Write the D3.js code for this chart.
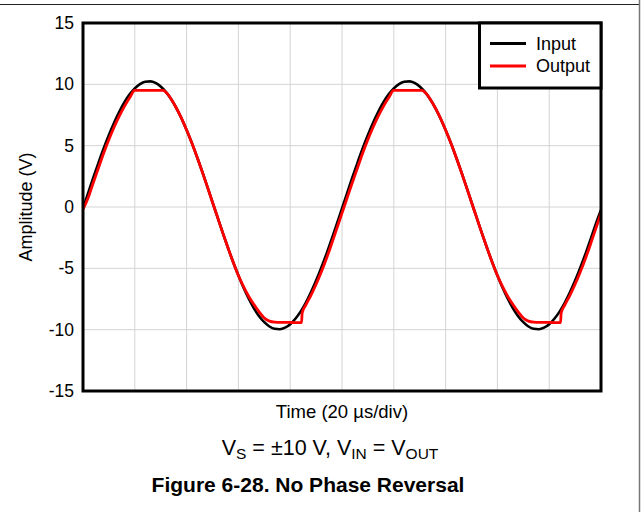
<!DOCTYPE html>
<html>
<head>
<meta charset="utf-8">
<script src="https://cdn.jsdelivr.net/npm/d3@7"></script>
<style>
  html, body { margin: 0; padding: 0; background: #fff; }
  svg { display: block; font-family: Arial, "Liberation Sans", sans-serif; }
</style>
</head>
<body>
<svg id="chart" width="644" height="512"></svg>
<script>
// ---- data (time in divisions of 20 µs, amplitude in V) ----
const timeStep = 0.1;
const inputValues = [
  -0.11, 1.15, 2.41, 3.62, 4.79, 5.87, 6.87, 7.76, 8.54, 9.18,
  9.67, 10.02, 10.21, 10.24, 10.12, 9.83, 9.39, 8.81, 8.09, 7.24,
  6.28, 5.23, 4.10, 2.90, 1.66, 0.39, -0.87, -2.13, -3.34, -4.51,
  -5.59, -6.59, -7.48, -8.26, -8.90, -9.39, -9.74, -9.93, -9.96, -9.84,
  -9.55, -9.11, -8.53, -7.81, -6.96, -6.00, -4.95, -3.82, -2.62, -1.38,
  -0.11, 1.15, 2.41, 3.62, 4.79, 5.87, 6.87, 7.76, 8.54, 9.18,
  9.67, 10.02, 10.21, 10.24, 10.12, 9.83, 9.39, 8.81, 8.09, 7.24,
  6.28, 5.23, 4.10, 2.90, 1.66, 0.39, -0.87, -2.13, -3.34, -4.51,
  -5.59, -6.59, -7.48, -8.26, -8.90, -9.39, -9.74, -9.93, -9.96, -9.84,
  -9.55, -9.11, -8.53, -7.81, -6.96, -6.00, -4.95, -3.82, -2.62, -1.38,
  -0.25
];
const outputTime = [
  0, 0.1, 0.2, 0.3, 0.4, 0.5, 0.6, 0.7, 0.8, 0.9, 1.0, 1.1, 1.2, 1.3, 1.4, 1.55,
  1.6, 1.7, 1.8, 1.9, 2.0, 2.1, 2.2, 2.3, 2.4, 2.5, 2.6, 2.7, 2.8, 2.9, 3.0,
  3.1, 3.2, 3.3, 3.4, 3.5, 3.6, 3.7, 3.8, 3.9, 4.0, 4.1, 4.22, 4.23,
  4.3, 4.4, 4.5, 4.6, 4.7, 4.8, 4.9,
  5.0, 5.1, 5.2, 5.3, 5.4, 5.5, 5.6, 5.7, 5.8, 5.9, 6.0, 6.1, 6.2, 6.3, 6.4, 6.55,
  6.6, 6.7, 6.8, 6.9, 7.0, 7.1, 7.2, 7.3, 7.4, 7.5, 7.6, 7.7, 7.8, 7.9, 8.0,
  8.1, 8.2, 8.3, 8.4, 8.5, 8.6, 8.7, 8.8, 8.9, 9.0, 9.1, 9.22, 9.23,
  9.3, 9.4, 9.5, 9.6, 9.7, 9.8, 9.9, 10.0
];
const outputValues = [
  -0.2, 0.75, 2.0, 3.2, 4.4, 5.5, 6.5, 7.4, 8.2, 8.9, 9.5, 9.5, 9.5, 9.5, 9.5, 9.5,
  9.35, 8.81, 8.09, 7.24, 6.28, 5.23, 4.10, 2.90, 1.66, 0.39, -0.87, -2.13, -3.34, -4.51, -5.59,
  -6.5, -7.3, -7.95, -8.55, -9.05, -9.3, -9.38, -9.4, -9.4, -9.41, -9.42, -9.42, -8.65,
  -8.0, -7.2, -6.3, -5.3, -4.2, -3.0, -1.75,
  -0.5, 0.75, 2.0, 3.2, 4.4, 5.5, 6.5, 7.4, 8.2, 8.9, 9.5, 9.5, 9.5, 9.5, 9.5, 9.5,
  9.35, 8.81, 8.09, 7.24, 6.28, 5.23, 4.10, 2.90, 1.66, 0.39, -0.87, -2.13, -3.34, -4.51, -5.59,
  -6.5, -7.3, -7.95, -8.55, -9.05, -9.3, -9.38, -9.4, -9.4, -9.41, -9.42, -9.42, -8.65,
  -8.0, -7.2, -6.3, -5.3, -4.2, -3.0, -1.75, -0.5
];
const yTicks = [-15, -10, -5, 0, 5, 10, 15];
const xGridDivs = [1, 2, 3, 4, 5, 6, 7, 8, 9];
const seriesNames = ["Input", "Output"];
const seriesColors = ["#000000", "#ff0000"];
const xTitle = "Time (20 µs/div)";
const yTitle = "Amplitude (V)";
const figTitle = "Figure 6-28. No Phase Reversal";

// ---- layout ----
const svg = d3.select("#chart");
const L = 83, R = 601, T = 23, B = 391;
const x = d3.scaleLinear().domain([0, 10]).range([L, R]);
const y = d3.scaleLinear().domain([-15, 15]).range([B, T]);

// outer page borders
svg.append("line").attr("x1", 0).attr("x2", 640).attr("y1", 4.5).attr("y2", 4.5)
  .attr("stroke", "#222").attr("stroke-width", 1);
svg.append("line").attr("x1", 639.5).attr("x2", 639.5).attr("y1", 0).attr("y2", 512)
  .attr("stroke", "#777").attr("stroke-width", 1.5);

// grid
const grid = svg.append("g");
grid.selectAll("line.v").data(xGridDivs).enter().append("line")
  .attr("x1", d => x(d)).attr("x2", d => x(d)).attr("y1", T).attr("y2", B)
  .attr("stroke", "#d4d4d4").attr("stroke-width", 1);
grid.selectAll("line.h").data(yTicks.filter(d => d > -15 && d < 15)).enter().append("line")
  .attr("x1", L).attr("x2", R).attr("y1", d => y(d)).attr("y2", d => y(d))
  .attr("stroke", "#d4d4d4").attr("stroke-width", 1);

// y axis labels
const yAxis = d3.axisLeft(y).tickValues(yTicks).tickSize(0).tickPadding(9)
  .tickFormat(d => String(d));
const ya = svg.append("g").attr("transform", `translate(${L},0)`).call(yAxis);
ya.select(".domain").remove();
ya.selectAll("text").attr("font-size", 17.5).attr("fill", "#000")
  .attr("font-family", "Arial, 'Liberation Sans', sans-serif");

// series
const inputData = inputValues.map((v, i) => ({ t: i * timeStep, v }));
const outputData = outputTime.map((t, i) => ({ t, v: outputValues[i] }));
const line = d3.line().x(d => x(d.t)).y(d => y(d.v)).curve(d3.curveMonotoneX);

svg.append("defs").append("clipPath").attr("id", "pc")
  .append("rect").attr("x", L).attr("y", T).attr("width", R - L).attr("height", B - T);

const plot = svg.append("g").attr("clip-path", "url(#pc)");
plot.append("path").datum(inputData).attr("d", line)
  .attr("fill", "none").attr("stroke", seriesColors[0]).attr("stroke-width", 2.6)
  .attr("stroke-linejoin", "round");
plot.append("path").datum(outputData).attr("d", line)
  .attr("fill", "none").attr("stroke", seriesColors[1]).attr("stroke-width", 2.8)
  .attr("stroke-linejoin", "round");

// plot frame
svg.append("rect").attr("x", L).attr("y", T).attr("width", R - L).attr("height", B - T)
  .attr("fill", "none").attr("stroke", "#000").attr("stroke-width", 3);

// legend
const lg = svg.append("g");
lg.append("rect").attr("x", 479.5).attr("y", T).attr("width", R - 479.5).attr("height", 65)
  .attr("fill", "#fff").attr("stroke", "#000").attr("stroke-width", 3);
seriesNames.forEach((name, i) => {
  const yy = 43.5 + i * 22.5;
  lg.append("line").attr("x1", 490).attr("x2", 526).attr("y1", yy).attr("y2", yy)
    .attr("stroke", seriesColors[i]).attr("stroke-width", 3);
  lg.append("text").attr("x", 536).attr("y", yy + 6).attr("font-size", 18)
    .attr("fill", "#000").text(name);
});

// axis titles
svg.append("text").attr("x", (L + R) / 2).attr("y", 418).attr("text-anchor", "middle")
  .attr("font-size", 18.5).attr("fill", "#000").text(xTitle);
svg.append("text").attr("transform", `translate(32,${(T + B) / 2}) rotate(-90)`)
  .attr("text-anchor", "middle").attr("font-size", 18).attr("fill", "#000").text(yTitle);

// condition line with subscripts
const cond = svg.append("text").attr("x", 330).attr("y", 455)
  .attr("text-anchor", "middle").attr("font-size", 21.5).attr("fill", "#000");
const parts = [
  ["V", false], ["S", true], [" = ±10 V, V", false], ["IN", true],
  [" = V", false], ["OUT", true]
];
parts.forEach(([s, sub], i) => {
  const ts = cond.append("tspan").text(s);
  if (sub) ts.attr("font-size", 15.5).attr("dy", 4);
  else if (i > 0) ts.attr("dy", -4);
});

// figure caption
svg.append("text").attr("x", 308).attr("y", 492).attr("text-anchor", "middle")
  .attr("font-size", 21).attr("font-weight", "bold").attr("fill", "#000").text(figTitle);
</script>
</body>
</html>
